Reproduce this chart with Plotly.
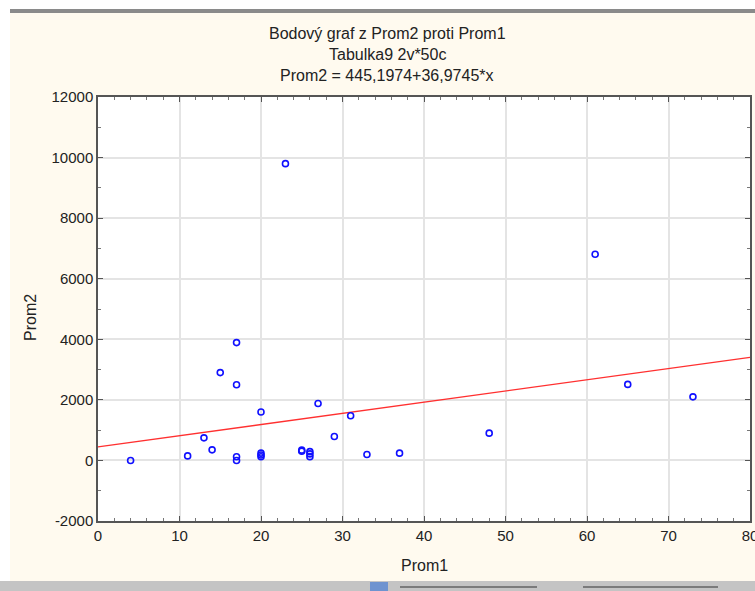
import plotly.graph_objects as go

# Data
prom1 = [4, 11, 13, 14, 15, 17, 17, 17, 17, 20, 20, 20, 20, 23, 25, 25,
         26, 26, 26, 27, 29, 31, 33, 37, 48, 61, 65, 73]
prom2 = [0, 150, 745, 350, 2900, 3890, 2500, 120, 0, 1600, 240, 180, 120, 9800, 340, 305,
         290, 215, 125, 1880, 790, 1475, 195, 240, 900, 6810, 2510, 2100]

intercept = 445.1974
slope = 36.9745
line_x = [0, 80]
line_y = [intercept + slope * v for v in line_x]

x_ticks = [0, 10, 20, 30, 40, 50, 60, 70, 80]
y_ticks = [-2000, 0, 2000, 4000, 6000, 8000, 10000, 12000]

title_lines = ["Bodový graf z Prom2 proti Prom1", "Tabulka9 2v*50c", "Prom2 = 445,1974+36,9745*x"]

W, H = 755, 591
L, R, T, B = 98, 750, 97, 521

def px(x):
    return (x - L) / (R - L)

def py(y):
    return (B - y) / (B - T)

FONT = "Liberation Sans, Arial, sans-serif"
TXT = "#222222"

fig = go.Figure()
fig.add_trace(go.Scatter(x=line_x, y=line_y, mode="lines",
                         line=dict(color="#FF3030", width=1.3), hoverinfo="skip"))
fig.add_trace(go.Scatter(x=prom1, y=prom2, mode="markers",
                         marker=dict(symbol="circle-open", size=6, color="#1010FF",
                                     line=dict(width=1.6, color="#1010FF"))))

axis_common = dict(showgrid=True, gridcolor="#E4E4E4", gridwidth=1.5,
                   showline=True, linecolor="#555555", linewidth=1.5, mirror="ticks",
                   ticks="inside", ticklen=5, tickcolor="#555555", tickwidth=1,
                   zeroline=False, ticklabeloverflow="allow", automargin=False,
                   tickfont=dict(family=FONT, size=15, color=TXT))

fig.update_xaxes(range=[0, 80], tickvals=x_ticks, ticktext=[str(v) for v in x_ticks],
                 minor=dict(dtick=2, ticks="inside", ticklen=3, tickcolor="#777777", showgrid=False),
                 **axis_common)
fig.update_yaxes(range=[-2000, 12000], tickvals=y_ticks, ticktext=[str(v) for v in y_ticks],
                 minor=dict(dtick=1000, ticks="inside", ticklen=3, tickcolor="#777777", showgrid=False),
                 **axis_common)

annotations = []
for i, t in enumerate(title_lines):
    annotations.append(dict(text=t, x=px(387), y=py(33 + 21 * i), xref="paper", yref="paper",
                            showarrow=False, xanchor="center", yanchor="middle",
                            font=dict(family=FONT, size=16, color=TXT)))
annotations.append(dict(text="Prom1", x=px(424), y=py(565), xref="paper", yref="paper",
                        showarrow=False, xanchor="center", yanchor="middle",
                        font=dict(family=FONT, size=16, color=TXT)))
annotations.append(dict(text="Prom2", x=px(30), y=py(318), xref="paper", yref="paper",
                        showarrow=False, xanchor="center", yanchor="middle", textangle=-90,
                        font=dict(family=FONT, size=16, color=TXT)))

shapes = [
    # white window strip at the top and left
    dict(type="rect", xref="paper", yref="paper", x0=px(0), x1=px(W), y0=py(0), y1=py(9),
         fillcolor="white", line=dict(width=0), layer="below"),
    dict(type="rect", xref="paper", yref="paper", x0=px(0), x1=px(10), y0=py(0), y1=py(H),
         fillcolor="white", line=dict(width=0), layer="below"),
    dict(type="rect", xref="paper", yref="paper", x0=px(10), x1=px(W), y0=py(9), y1=py(13),
         fillcolor="#8A8A8A", line=dict(width=0), layer="below"),
    # bottom status bar
    dict(type="rect", xref="paper", yref="paper", x0=px(0), x1=px(W), y0=py(581), y1=py(H),
         fillcolor="#C4C4C4", line=dict(width=0), layer="above"),
    dict(type="line", xref="paper", yref="paper", x0=px(400), x1=px(537), y0=py(587), y1=py(587),
         line=dict(color="#333333", width=1), layer="above"),
    dict(type="line", xref="paper", yref="paper", x0=px(583), x1=px(718), y0=py(587), y1=py(587),
         line=dict(color="#333333", width=1), layer="above"),
    dict(type="rect", xref="paper", yref="paper", x0=px(370), x1=px(388), y0=py(582), y1=py(H),
         fillcolor="#6E93D0", line=dict(width=0), layer="above"),
]

fig.update_layout(
    width=W, height=H,
    margin=dict(l=L, r=W - R, t=T, b=H - B, pad=0, autoexpand=False),
    paper_bgcolor="#FFFAEF", plot_bgcolor="white",
    showlegend=False,
    annotations=annotations, shapes=shapes,
)

fig.write_html("out.html", config={"displayModeBar": False},
               post_script="document.body.style.margin='0px';document.body.style.overflow='hidden';")
